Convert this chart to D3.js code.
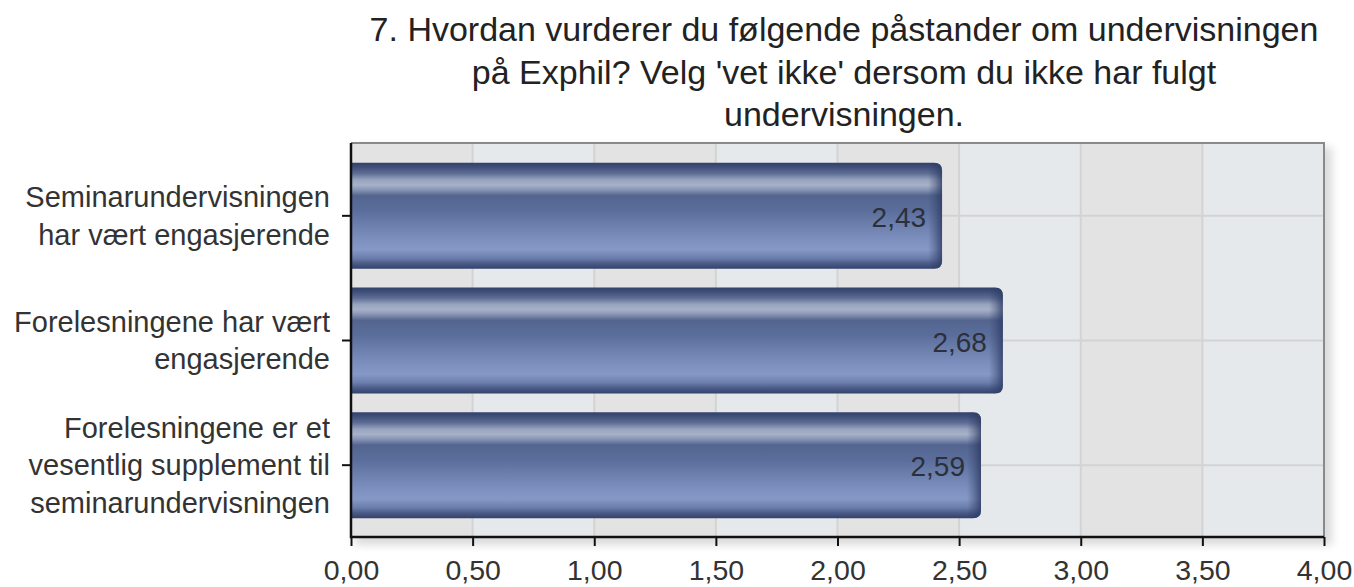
<!DOCTYPE html>
<head>
  <meta charset="utf-8">
<style>
body{
  margin: 0;
  background-color: white;
  font-family: Arial, "Liberation Sans", sans-serif;
}
text{
  font-family: Arial, "Liberation Sans", sans-serif;
}
.domain{ display: none; }
</style>
</head>
<body>
  <svg width="1354" height="587"></svg>
</body>

<script src="https://d3js.org/d3.v7.min.js"></script>
<script>

// data
var titleLines = ["7. Hvordan vurderer du følgende påstander om undervisningen",
                  "på Exphil? Velg 'vet ikke' dersom du ikke har fulgt",
                  "undervisningen."];
var categories = ["Seminarundervisningen har vært engasjerende",
                  "Forelesningene har vært engasjerende",
                  "Forelesningene er et vesentlig supplement til seminarundervisningen"];
var categoryLines = [["Seminarundervisningen", "har vært engasjerende"],
                     ["Forelesningene har vært", "engasjerende"],
                     ["Forelesningene er et", "vesentlig supplement til", "seminarundervisningen"]];
var values = [2.43, 2.68, 2.59];
var xTicks = [0, 0.5, 1, 1.5, 2, 2.5, 3, 3.5, 4];

var svg = d3.select("svg");
var plotLeft = 351, plotRight = 1324, plotTop = 143, plotBottom = 537;

var fmt = d => d.toFixed(2).replace(".", ",");

var x = d3.scaleLinear().domain([0, 4]).range([plotLeft, plotRight]);
var y = d3.scaleBand().domain(categories).range([153.5, 527.5])
  .paddingInner(0.15).paddingOuter(0.075);

var defs = svg.append("defs");

// vertical bar gradient
var g = defs.append("linearGradient").attr("id", "barGrad")
  .attr("x1", 0).attr("y1", 0).attr("x2", 0).attr("y2", 1);
[[0, "#33416a"], [0.04, "#3f4f79"], [0.10, "#5d6d95"], [0.16, "#98a3be"],
 [0.21, "#a7b1c8"], [0.26, "#8290b1"], [0.31, "#53648f"], [0.45, "#5b6e9b"],
 [0.72, "#7d8fbe"], [0.82, "#8698c5"], [0.90, "#6b7dac"], [0.95, "#4b5b87"],
 [1, "#33426b"]].forEach(s => g.append("stop").attr("offset", s[0]).attr("stop-color", s[1]));

var eg = defs.append("linearGradient").attr("id", "endGrad")
  .attr("x1", 0).attr("y1", 0).attr("x2", 1).attr("y2", 0);
eg.append("stop").attr("offset", 0).attr("stop-color", "#2c3a62").attr("stop-opacity", 0);
eg.append("stop").attr("offset", 0.5).attr("stop-color", "#2c3a62").attr("stop-opacity", 0.35);
eg.append("stop").attr("offset", 1).attr("stop-color", "#2c3a62").attr("stop-opacity", 0.8);

var sepGrad = defs.append("linearGradient").attr("id", "sepGrad")
  .attr("x1", 0).attr("y1", 0).attr("x2", 1).attr("y2", 0);
sepGrad.append("stop").attr("offset", 0).attr("stop-color", "#777").attr("stop-opacity", 0);
sepGrad.append("stop").attr("offset", 0.5).attr("stop-color", "#555").attr("stop-opacity", 0.9);
sepGrad.append("stop").attr("offset", 1).attr("stop-color", "#777").attr("stop-opacity", 0);

var blur = defs.append("filter").attr("id", "shadow")
  .attr("x", "-5%").attr("y", "-5%").attr("width", "110%").attr("height", "115%");
blur.append("feGaussianBlur").attr("stdDeviation", 4);

// title
svg.append("g").selectAll("text")
  .data(titleLines)
  .enter().append("text")
  .attr("x", 844)
  .attr("y", (d, i) => 41 + i * 42.5)
  .attr("text-anchor", "middle")
  .attr("font-size", "34px")
  .attr("fill", "#222")
  .text(d => d);

// plot shadow + background bands
svg.append("rect")
  .attr("x", plotLeft + 4).attr("y", plotTop + 4)
  .attr("width", plotRight - plotLeft + 4).attr("height", plotBottom - plotTop + 4)
  .attr("fill", "#000").attr("opacity", 0.14)
  .attr("filter", "url(#shadow)");

svg.append("rect")
  .attr("x", plotLeft).attr("y", plotTop)
  .attr("width", plotRight - plotLeft).attr("height", plotBottom - plotTop)
  .attr("fill", "#e5e8eb");

svg.append("g").selectAll("rect")
  .data(xTicks.slice(0, -1))
  .enter().append("rect")
  .attr("x", d => x(d))
  .attr("y", plotTop)
  .attr("width", d => x(d + 0.5) - x(d))
  .attr("height", plotBottom - plotTop)
  .attr("fill", (d, i) => i % 2 === 0 ? "#e3e3e4" : "#e6e9ec");

// grid
svg.append("g").selectAll("line")
  .data(xTicks.slice(1, -1))
  .enter().append("line")
  .attr("x1", d => x(d)).attr("x2", d => x(d))
  .attr("y1", plotTop).attr("y2", plotBottom)
  .attr("stroke", "#d3d3d3").attr("stroke-width", 2);

svg.append("g").selectAll("line")
  .data(categories)
  .enter().append("line")
  .attr("x1", plotLeft).attr("x2", plotRight)
  .attr("y1", d => y(d) + y.bandwidth() / 2)
  .attr("y2", d => y(d) + y.bandwidth() / 2)
  .attr("stroke", "#d3d3d3").attr("stroke-width", 2);

// top / right frame
svg.append("path")
  .attr("d", `M${plotLeft},${plotTop}H${plotRight}V${plotBottom}`)
  .attr("fill", "none").attr("stroke", "#8a8a8a").attr("stroke-width", 2);

// bars
var r = 8;
function barPath(d, i) {
  var x0 = x(0), x1 = x(values[i]), y0 = y(d), h = y.bandwidth();
  return `M${x0},${y0}H${x1 - r}Q${x1},${y0} ${x1},${y0 + r}V${y0 + h - r}Q${x1},${y0 + h} ${x1 - r},${y0 + h}H${x0}Z`;
}

var bars = svg.append("g").selectAll("g")
  .data(categories)
  .enter().append("g");

bars.append("clipPath")
  .attr("id", (d, i) => "clip" + i)
  .append("path").attr("d", barPath);

bars.append("path")
  .attr("d", barPath)
  .attr("fill", "url(#barGrad)");

bars.append("rect")
  .attr("clip-path", (d, i) => "url(#clip" + i + ")")
  .attr("x", (d, i) => x(values[i]) - 14)
  .attr("y", d => y(d))
  .attr("width", 14)
  .attr("height", y.bandwidth())
  .attr("fill", "url(#endGrad)");

bars.append("text")
  .attr("x", (d, i) => x(values[i]) - 16)
  .attr("y", d => y(d) + y.bandwidth() / 2 + 11)
  .attr("text-anchor", "end")
  .attr("font-size", "28px")
  .attr("fill", "#2b303c")
  .text((d, i) => fmt(values[i]));

// axes
var xAxis = svg.append("g")
  .attr("transform", `translate(0,${plotBottom})`)
  .call(d3.axisBottom(x).tickValues(xTicks).tickFormat(fmt).tickSize(9));
xAxis.selectAll("line").attr("stroke", "#111").attr("stroke-width", 2);
xAxis.selectAll("text")
  .attr("y", 43).attr("dy", 0)
  .attr("font-size", "28.5px")
  .attr("fill", "#333");

var yAxis = svg.append("g")
  .attr("transform", `translate(${plotLeft},0)`)
  .call(d3.axisLeft(y).tickFormat("").tickSize(9));
yAxis.selectAll("line").attr("stroke", "#111").attr("stroke-width", 2);

svg.append("path")
  .attr("d", `M${plotLeft},${plotTop}V${plotBottom}H${plotRight}`)
  .attr("fill", "none").attr("stroke", "#111").attr("stroke-width", 2.5);

// category labels
var lh = 37.5;
svg.append("g").selectAll("text")
  .data(categories)
  .enter().append("text")
  .attr("text-anchor", "end")
  .attr("font-size", "29px")
  .attr("fill", "#333")
  .each(function(d, i) {
    var lines = categoryLines[i];
    var cy = y(d) + y.bandwidth() / 2;
    var first = cy - (lines.length - 1) * lh / 2 + 10;
    d3.select(this).selectAll("tspan")
      .data(lines)
      .enter().append("tspan")
      .attr("x", 330)
      .attr("y", (l, j) => first + j * lh)
      .text(l => l);
  });

// separators between labels
svg.append("g").selectAll("line")
  .data(categories.slice(1))
  .enter().append("line")
  .attr("x1", 20).attr("x2", 343)
  .attr("y1", d => y(d) - y.step() * y.paddingInner() / 2)
  .attr("y2", d => y(d) - y.step() * y.paddingInner() / 2)
  .attr("stroke", "url(#sepGrad)").attr("stroke-width", 1.5);

</script>
